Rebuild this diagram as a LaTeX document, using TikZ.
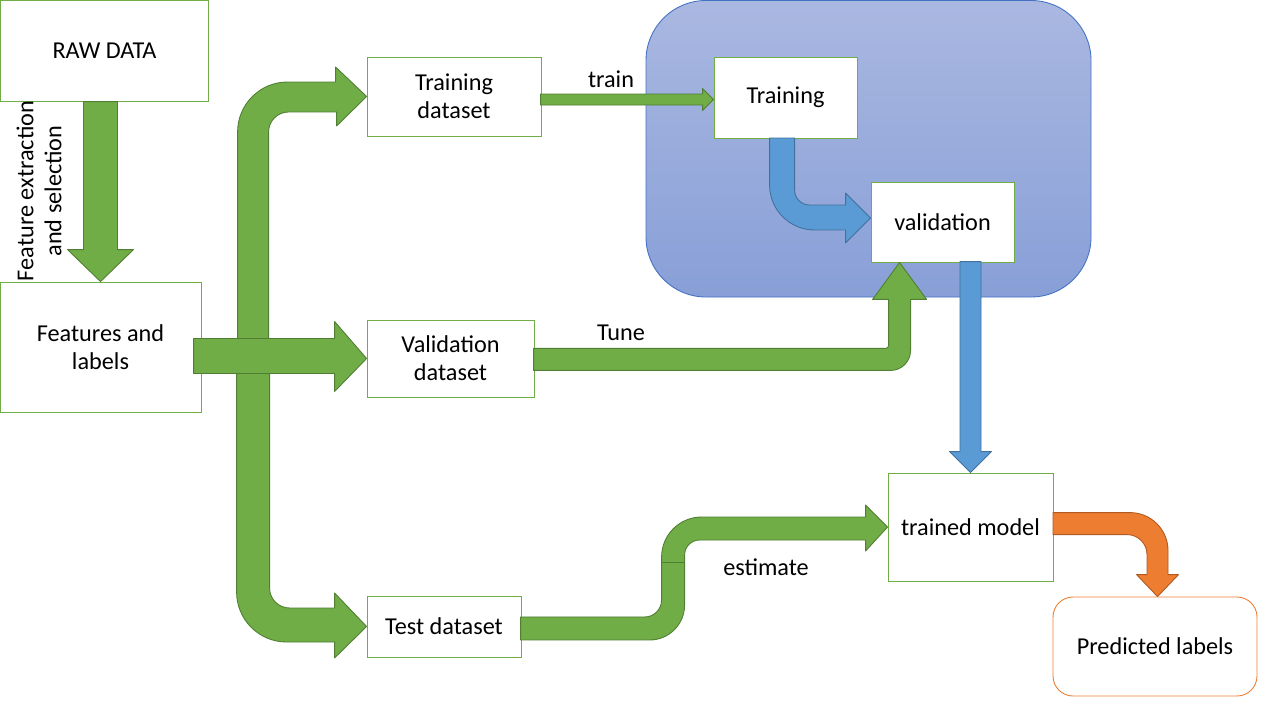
\documentclass[tikz,border=0pt]{standalone}
\usepackage{fontspec}
\setmainfont{Carlito}
\usetikzlibrary{calc}
\definecolor{gfill}{HTML}{70AD47}
\definecolor{gline}{HTML}{507E32}
\definecolor{bfill}{HTML}{5B9BD5}
\definecolor{bline}{HTML}{41719C}
\definecolor{ofill}{HTML}{ED7D31}
\definecolor{oline}{HTML}{AE5A21}
\definecolor{regtop}{RGB}{170,184,225}
\definecolor{regbot}{RGB}{136,159,215}
\definecolor{regline}{HTML}{4472C4}
\begin{document}
\begin{tikzpicture}[x=0.02cm,y=-0.02cm,
  txt/.style={font=\fontsize{13.8}{15.9}\selectfont, inner sep=0pt, align=center},
  box/.style={txt, draw=gfill, fill=white, line width=0.5pt},
  predbox/.style={txt, draw=ofill, fill=white, line width=0.5pt, rounded corners=0.4cm},
  region/.style={draw=regline, line width=0.5pt, rounded corners=1.2cm, top color=regtop, bottom color=regbot},
  garrow/.style={fill=gfill, draw=gline, line width=0.5pt, line join=round},
  barrow/.style={fill=bfill, draw=bline, line width=0.5pt, line join=round},
  oarrow/.style={fill=ofill, draw=oline, line width=0.5pt, line join=round}]
\useasboundingbox (0,0) rectangle (1280,720);
\fill[white] (0,0) rectangle (1280,720);

% blue region
\path[region] (646,0.5) rectangle (1091,297);

% boxes
\node[box, minimum width=4.15cm, minimum height=2.03cm] (raw) at (104.5,51) {RAW DATA};
\node[box, minimum width=4.02cm, minimum height=2.6cm] (feat) at (100.5,347) {Features and\\labels};
\node[box, minimum width=3.48cm, minimum height=1.58cm] (tds) at (454,96.5) {Training\\dataset};
\node[box, minimum width=3.34cm, minimum height=1.54cm] (vds) at (450.5,358.5) {Validation\\dataset};
\node[box, minimum width=3.08cm, minimum height=1.22cm] (tst) at (444,626.5) {Test dataset};
\node[box, minimum width=2.86cm, minimum height=1.62cm] (tr) at (785.5,97.5) {Training};
\node[box, minimum width=2.86cm, minimum height=1.6cm] (val) at (942.5,222) {validation};
\node[box, minimum width=3.3cm, minimum height=2.16cm] (tm) at (970.5,527) {trained model};
\node[predbox, minimum width=4.08cm, minimum height=1.98cm] (pred) at (1155,646.5) {Predicted labels};

% RAW DATA -> Features and labels
\path[garrow] (feat.north) -- ++(33,-32) -- ++(-16,0) -- ++(0,-148) -- ++(-34,0) -- ++(0,148) -- ++(-16,0) -- cycle;
\node[txt, rotate=90] (fexlab) at (39,191) {Feature extraction\\and selection};

% Features -> Training dataset (bent up)
\path[garrow] (tds.west) -- ++(-31,-29.5) -- ++(0,15) -- ++(-48,0)
  arc[start angle=90, end angle=180, radius=1cm] -- ++(0,213) -- ++(31,0) -- ++(0,-213)
  arc[start angle=180, end angle=90, radius=0.4cm] -- ++(48,0) -- ++(0,14) -- cycle;

% Features -> Test dataset (bent down)
\path[garrow] (tst.west) -- ++(-32,-33.5) -- ++(0,15) -- ++(-45,0)
  arc[start angle=270, end angle=180, radius=0.4cm] -- ++(0,-215) -- ++(-33,0) -- ++(0,219)
  arc[start angle=180, end angle=270, radius=1cm] -- ++(48,0) -- ++(0,16) -- cycle;

% Features -> Validation dataset
\path[garrow] (vds.west) -- ++(-32,-37) -- ++(0,17) -- ++(-141,0) -- ++(0,35) -- ++(141,0) -- ++(0,18) -- cycle;

% train
\path[garrow] ($(tr.west)+(0,2)$) -- ++(-11,-11) -- ++(0,5.5) -- ++(-162,0) -- ++(0,11) -- ++(162,0) -- ++(0,5.5) -- cycle;
\node[txt] (trainlab) at (611,79) {train};

% Tune
\path[garrow] ($(val.south west)+(29,0)$) -- ++(27,37) -- ++(-16,0) -- ++(0,51)
  arc[start angle=0, end angle=-90, radius=0.4cm] -- ++(-357,0) -- ++(0,-22) -- ++(352,0)
  arc[start angle=270, end angle=360, radius=0.06cm] -- ++(0,-46) -- ++(-16,0) -- cycle;
\node[txt] (tunelab) at (621,333) {Tune};

% Training -> validation (blue bent)
\path[barrow] ($(val.west)+(0,-4)$) -- ++(-25,-25) -- ++(0,12) -- ++(-36,0)
  arc[start angle=270, end angle=180, radius=0.3cm] -- ++(0,-52) -- ++(-25,0) -- ++(0,47)
  arc[start angle=180, end angle=270, radius=0.9cm] -- ++(31,0) -- ++(0,13) -- cycle;

% validation -> trained model
\path[barrow] (tm.north) -- ++(-21,-21) -- ++(10.5,0) -- ++(0,-190) -- ++(21,0) -- ++(0,190) -- ++(10.5,0) -- cycle;

% estimate
\path[garrow] (tm.west) -- ++(-22,-22) -- ++(0,12) -- ++(-164,0)
  arc[start angle=90, end angle=180, radius=0.8cm] -- ++(0,43)
  arc[start angle=0, end angle=-90, radius=0.34cm] -- ++(-124,0) -- ++(0,23) -- ++(129,0)
  arc[start angle=-90, end angle=0, radius=0.7cm] -- ++(0,-50)
  arc[start angle=180, end angle=90, radius=0.3cm] -- ++(166,0) -- ++(0,11) -- cycle;
\draw[gline, line width=0.5pt] (662,562) -- (685,562);
\node[txt] (estlab) at (766,567) {estimate};

% trained model -> Predicted labels
\path[oarrow] ($(pred.north)+(2.5,0)$) -- ++(21,-22) -- ++(-10.5,0) -- ++(0,-24)
  arc[start angle=0, end angle=90, radius=0.76cm] -- ++(-77,0) -- ++(0,22) -- ++(74,0)
  arc[start angle=90, end angle=0, radius=0.4cm] -- ++(0,20) -- ++(-10.5,0) -- cycle;
\end{tikzpicture}
\end{document}
